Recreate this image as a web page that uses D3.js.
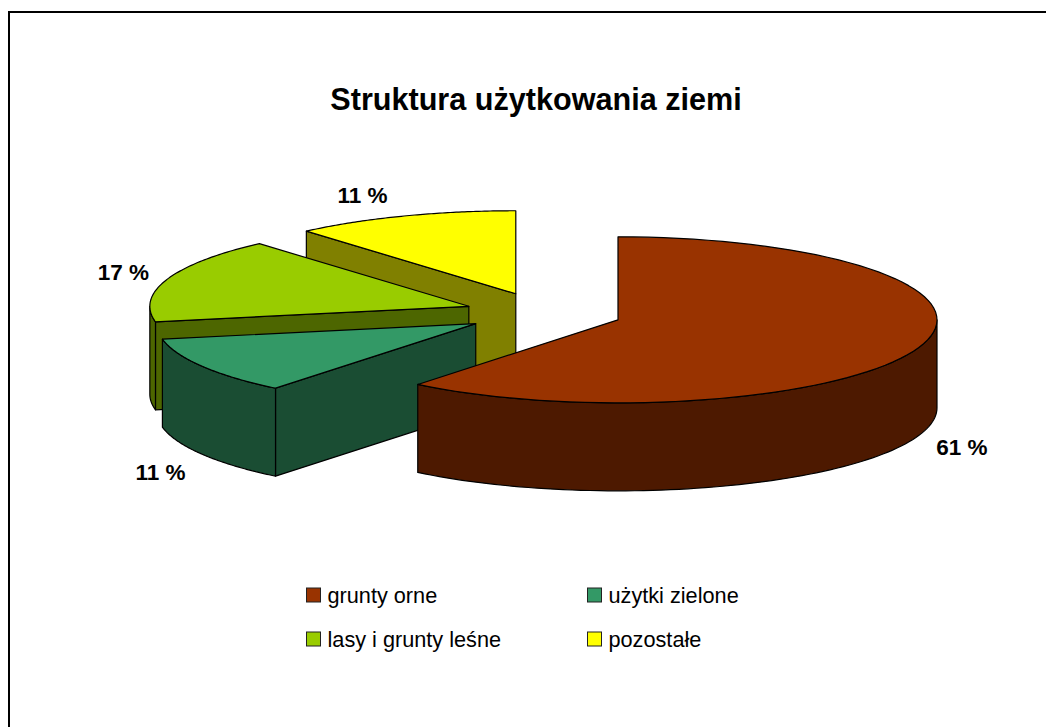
<!DOCTYPE html>
<html>
<head>
<meta charset="utf-8">
<script src="https://cdn.jsdelivr.net/npm/d3@7"></script>
<style>html,body{margin:0;padding:0;background:#fff;overflow:hidden}svg{display:block}text{font-family:"Liberation Sans",Arial,sans-serif;fill:#000}</style>
</head>
<body>
<script>
const categories = ["grunty orne", "użytki zielone", "lasy i grunty leśne", "pozostałe"];
const values = [60.8, 11.2, 16.6, 11.4];
const colors = ["#993300", "#339966", "#99cc00", "#ffff00"];
const sideColors = ["#4d1900", "#1a4d33", "#4d6600", "#808000"];
const titleText = "Struktura użytkowania ziemi";

const W = 1046, H = 727;
const cx = 543.5, cy = 313, rx = 319, ry = 83, depth = 88, explode = 79;
const labelPos = [[962, 447], [160.5, 472], [123.5, 272], [362.5, 195]];
const legendPos = [[313.5, 595], [594.5, 595], [313.5, 639], [594.5, 639]];

const svg = d3.select("body").append("svg").attr("width", W).attr("height", H);
svg.append("rect").attr("x", 9).attr("y", 12).attr("width", 1060).attr("height", 760)
  .attr("fill", "#fff").attr("stroke", "#000").attr("stroke-width", 2);

svg.append("text").attr("x", 536).attr("y", 110).attr("text-anchor", "middle")
  .attr("font-size", 30.6).attr("font-weight", "bold").text(titleText);

const pie = d3.pie().sort(null).startAngle(0).endAngle(2 * Math.PI);
const arcs = pie(values);
const X = d3.scaleLinear().domain([-1, 1]).range([-rx, rx]);
const Y = d3.scaleLinear().domain([-1, 1]).range([ry, -ry]);
const line = d3.line();

function pt(c, a, dy) { return [c[0] + X(Math.sin(a)), c[1] + Y(Math.cos(a)) + dy]; }
function arcPts(c, a0, a1, dy) {
  return d3.range(0, 81).map(i => pt(c, a0 + (a1 - a0) * i / 80, dy));
}
const stroke = s => s.attr("stroke", "#000").attr("stroke-width", 1.2).attr("stroke-linejoin", "round");

// painter's order: back slices first
[3, 2, 1, 0].forEach(i => {
  const d = arcs[i];
  const mid = (d.startAngle + d.endAngle) / 2;
  const apex = [cx + explode * (X(Math.sin(mid)) / rx), cy + explode * (Y(Math.cos(mid)) / rx)];
  const g = svg.append("g");
  // cut face at the start angle, when it faces the viewer
  if (Math.sin(d.startAngle) < 0) {
    const p = pt(apex, d.startAngle, 0), q = pt(apex, d.startAngle, depth);
    g.append("path").attr("d", line([p, apex, [apex[0], apex[1] + depth], q]) + "Z")
      .attr("fill", sideColors[i]).call(stroke);
  }
  // outer wall: the part of the rim on the front half
  const v0 = Math.max(d.startAngle, Math.PI / 2), v1 = Math.min(d.endAngle, 3 * Math.PI / 2);
  if (v1 > v0) {
    const top = arcPts(apex, v0, v1, 0), bot = arcPts(apex, v0, v1, depth).reverse();
    g.append("path").attr("d", line(top.concat(bot)) + "Z").attr("fill", sideColors[i]).call(stroke);
  }
  g.append("path").attr("d", line([apex].concat(arcPts(apex, d.startAngle, d.endAngle, 0))) + "Z")
    .attr("fill", colors[i]).call(stroke);
});

arcs.forEach((d, i) => {
  svg.append("text").attr("x", labelPos[i][0]).attr("y", labelPos[i][1]).attr("text-anchor", "middle")
    .attr("dy", "0.35em").attr("font-size", 22.5).attr("font-weight", "bold")
    .text(Math.round(d.value) + " %");
});

categories.forEach((c, i) => {
  const [x, y] = legendPos[i];
  svg.append("rect").attr("x", x - 7).attr("y", y - 7).attr("width", 14).attr("height", 14)
    .attr("fill", colors[i]).attr("stroke", "#222").attr("stroke-width", 1);
  svg.append("text").attr("x", x + 14).attr("y", y).attr("dy", "0.35em").attr("font-size", 21.7).text(c);
});
</script>
</body>
</html>
